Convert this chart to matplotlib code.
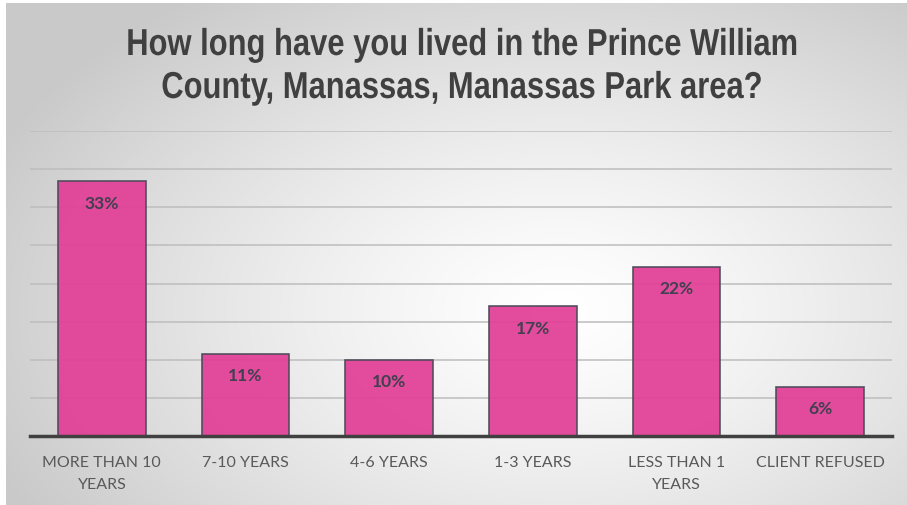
import numpy as np
import matplotlib
matplotlib.use("Agg")
import matplotlib.pyplot as plt
from matplotlib import patheffects
from matplotlib.transforms import Affine2D

categories = ["MORE THAN 10\nYEARS", "7-10 YEARS", "4-6 YEARS", "1-3 YEARS",
              "LESS THAN 1\nYEARS", "CLIENT REFUSED"]
values = [33.4, 10.8, 10.0, 17.0, 22.2, 6.4]
value_labels = ["33%", "11%", "10%", "17%", "22%", "6%"]
title = "How long have you lived in the Prince William\nCounty, Manassas, Manassas Park area?"

W, H = 907, 505
fig = plt.figure(figsize=(W / 100, H / 100), dpi=100)
fig.patch.set_facecolor("white")


class HSqueeze(patheffects.AbstractPathEffect):
    """Horizontally condense glyph outlines about a fixed display x."""
    def __init__(self, sx, x0):
        super().__init__()
        self.sx, self.x0 = sx, x0

    def draw_path(self, renderer, gc, tpath, affine, rgbFace=None):
        t = affine + Affine2D().translate(-self.x0, 0).scale(self.sx, 1).translate(self.x0, 0)
        renderer.draw_path(gc, tpath, t, rgbFace)


# background gradient panel
bg = fig.add_axes([6 / W, 0, 1 - 6 / W, (H - 3) / H])
bg.set_axis_off()
gx = np.linspace(6, W, 400)
gy = np.linspace(3, H, 250)
X, Y = np.meshgrid(gx, gy)
cx, cy, rx, ry = 560, 310, 620, 390
d = np.sqrt(((X - cx) / rx) ** 2 + ((Y - cy) / ry) ** 2)
d = np.clip(d, 0, 1)
v = 1.0 - (1.0 - 0.79) * d ** 1.3
img = np.dstack([v, v, v])
bg.imshow(img, aspect="auto", extent=[0, 1, 0, 1], origin="upper", interpolation="bilinear")
bg.set_xlim(0, 1)
bg.set_ylim(0, 1)

tx = (126 + 798) / 2
fig.text(tx / W, 1 - 27 / H, title, ha="center", va="top",
         fontsize=27, fontweight="bold", color="#404040", family="Liberation Sans",
         linespacing=1.25,
         path_effects=[HSqueeze(0.825, tx)])

left, right = 30 / W, 892 / W
bottom, top = (H - 436) / H, (H - 131) / H
ax = fig.add_axes([left, bottom, right - left, top - bottom])
ax.patch.set_alpha(0)
x = np.arange(len(categories))
ax.bar(x, values, width=0.61, color="#E23E96", alpha=0.93,
       edgecolor="#4a4a58", linewidth=1.2, zorder=3)
ax.set_xlim(-0.5, len(categories) - 0.5)
ax.set_ylim(0, 40)
ax.set_yticks(np.arange(0, 41, 5))
ax.yaxis.grid(True, color="#bdbdbd", linewidth=1.1, zorder=0)
ax.tick_params(axis="y", left=False, labelleft=False)
ax.tick_params(axis="x", bottom=False, pad=11)
ax.set_xticks(x)
ax.set_xticklabels(categories, fontsize=11.5, color="#595959", family="Lato",
                   linespacing=1.75)
for s in ["top", "right", "left"]:
    ax.spines[s].set_visible(False)
ax.spines["bottom"].set_color("#404040")
ax.spines["bottom"].set_linewidth(2.5)
ax.spines["bottom"].set_zorder(4)

for xi, val, lab in zip(x, values, value_labels):
    ax.annotate(lab, (xi, val), xytext=(0, -16), textcoords="offset points",
                ha="center", va="center", fontsize=12.5, fontweight="bold",
                color="#404050", family="Lato", zorder=5)

fig.savefig("out.png", dpi=100)
